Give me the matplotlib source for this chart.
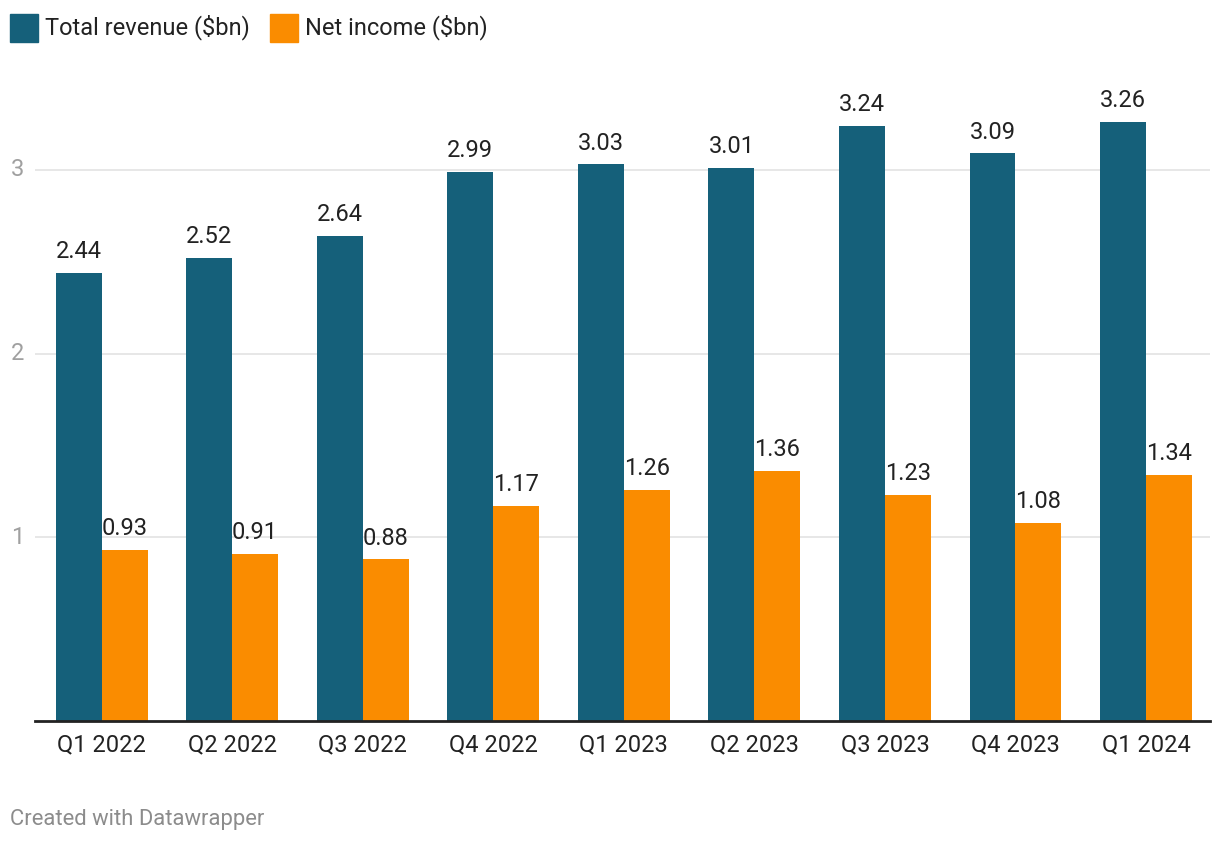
import numpy as np
import matplotlib.pyplot as plt
import matplotlib.transforms as mtransforms

plt.rcParams['font.family'] = ['Roboto', 'DejaVu Sans']

# Daten
quarters = ['Q1 2022', 'Q2 2022', 'Q3 2022', 'Q4 2022', 'Q1 2023',
            'Q2 2023', 'Q3 2023', 'Q4 2023', 'Q1 2024']
revenue = [2.44, 2.52, 2.64, 2.99, 3.03, 3.01, 3.24, 3.09, 3.26]
net_income = [0.93, 0.91, 0.88, 1.17, 1.26, 1.36, 1.23, 1.08, 1.34]
y_ticks = [1, 2, 3]

c_rev = '#15607a'
c_net = '#fa8c00'

fig = plt.figure(figsize=(12.2, 8.44), dpi=100)
ax = fig.add_axes([35 / 1220, 123 / 844, 1175 / 1220, (721 - 78) / 844])

x = np.arange(len(quarters))
w = 0.352
b1 = ax.bar(x - w / 2 + 0.01, revenue, w, color=c_rev)
b2 = ax.bar(x + w / 2 + 0.01, net_income, w, color=c_net)

for bars in (b1, b2):
    for b in bars:
        ax.annotate(f'{b.get_height():.2f}', (b.get_x() + b.get_width() / 2, b.get_height()),
                    xytext=(0, 7), textcoords='offset points', ha='center', va='bottom',
                    fontsize=17, color='#222222')

ax.set_xlim(-0.5, len(quarters) - 0.5)
ax.set_ylim(0, 3.5)
ax.set_yticks(y_ticks)
ax.set_yticklabels([])
ax.grid(axis='y', color='#e3e3e3', linewidth=1.2)
ax.set_axisbelow(True)
for s in ['top', 'right', 'left']:
    ax.spines[s].set_visible(False)
ax.spines['bottom'].set_color('#222222')
ax.spines['bottom'].set_linewidth(2)
ax.set_xticks(x + 0.01)
ax.set_xticklabels(quarters)
ax.tick_params(axis='x', length=0, labelsize=17, colors='#222222', pad=9)
ax.tick_params(axis='y', length=0)

# y-Beschriftungen links ausgerichtet
trans = mtransforms.blended_transform_factory(fig.transFigure, ax.transData)
for t in y_ticks:
    ax.text(11 / 1220, t, str(t), transform=trans, ha='left', va='center',
            fontsize=17, color='#a0a0a0')

# Legende
fig.patches.append(plt.Rectangle((10 / 1220, 1 - 42 / 844), 28 / 1220, 28 / 844,
                                 transform=fig.transFigure, color=c_rev))
fig.text(45 / 1220, 1 - 27 / 844, 'Total revenue ($bn)', fontsize=17, color='#222222', va='center')
fig.patches.append(plt.Rectangle((270 / 1220, 1 - 42 / 844), 28 / 1220, 28 / 844,
                                 transform=fig.transFigure, color=c_net))
fig.text(305 / 1220, 1 - 27 / 844, 'Net income ($bn)', fontsize=17, color='#222222', va='center')

fig.text(10 / 1220, 1 - 819 / 844, 'Created with Datawrapper', fontsize=15.8, color='#8c8c8c', va='center')

plt.savefig('out.png', dpi=100)
